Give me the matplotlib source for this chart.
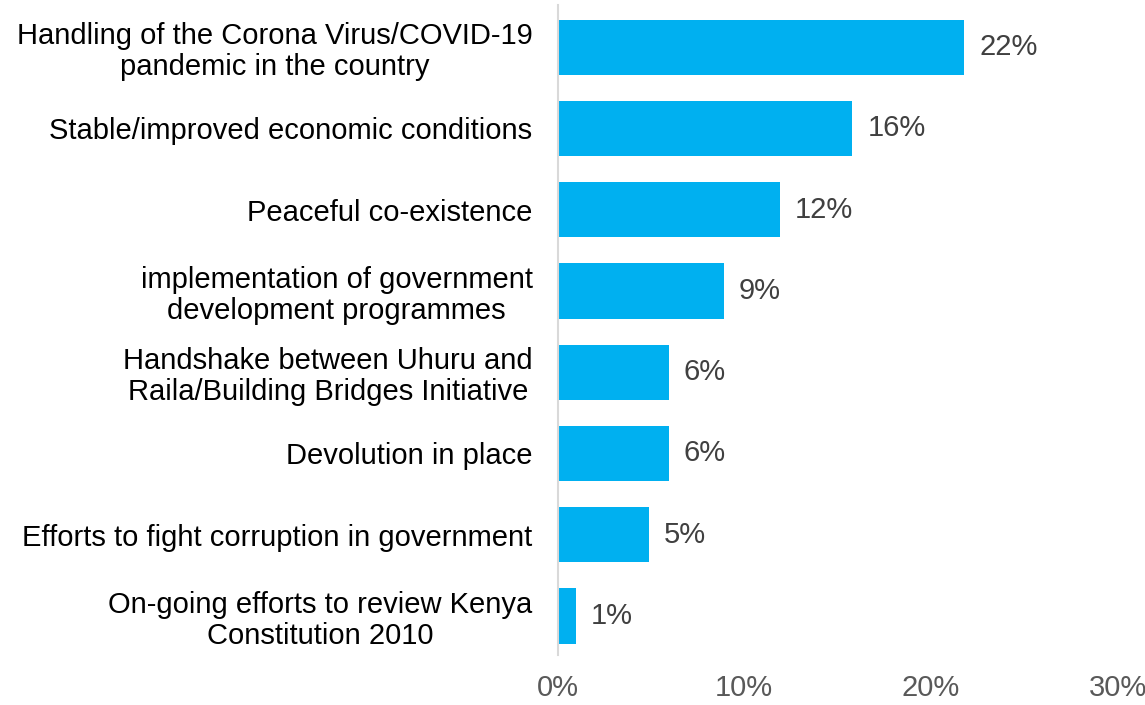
import matplotlib.pyplot as plt
from matplotlib.ticker import FuncFormatter

plt.rcParams['font.family'] = ['Liberation Sans', 'DejaVu Sans']

categories = [
    "Handling of the Corona Virus/COVID-19\npandemic in the country",
    "Stable/improved economic conditions",
    "Peaceful co-existence",
    "implementation of government\ndevelopment programmes",
    "Handshake between Uhuru and\nRaila/Building Bridges Initiative",
    "Devolution in place",
    "Efforts to fight corruption in government",
    "On-going efforts to review Kenya\nConstitution 2010",
]
values = [21.8, 15.8, 11.9, 8.9, 5.95, 5.95, 4.9, 1.0]
value_labels = ["22%", "16%", "12%", "9%", "6%", "6%", "5%", "1%"]
x_ticks = [0, 10, 20, 30]

fig = plt.figure(figsize=(11.45, 7.05), dpi=100)
ax = fig.add_axes([0.487, 0.071, 0.489, 0.922])

pos = list(range(len(categories)))
ax.barh(pos, values, height=0.68, color="#00B0F0")

for y, v, lab in zip(pos, values, value_labels):
    ax.text(v + 0.8, y, lab, va="center", ha="left", fontsize=21, color="#404040")

ax.set_ylim(7.48, -0.52)
ax.set_xlim(0, 30)
ax.set_yticks(pos)
ax.set_yticklabels(categories, fontsize=21, color="black",
                   multialignment="center", linespacing=1.15)
ax.set_xticks(x_ticks)
ax.xaxis.set_major_formatter(FuncFormatter(lambda v, p: f"{v:.0f}%"))
ax.tick_params(axis="x", labelsize=21, labelcolor="#595959", length=0, pad=14)
ax.tick_params(axis="y", length=0, pad=18)

for s in ["top", "right", "bottom"]:
    ax.spines[s].set_visible(False)
ax.spines["left"].set_color("#D9D9D9")
ax.spines["left"].set_linewidth(1.5)

fig.savefig("out.png", dpi=100)
